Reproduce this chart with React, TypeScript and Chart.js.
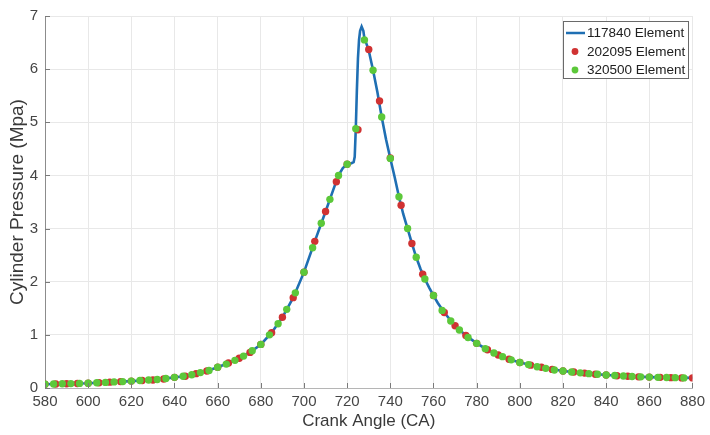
import React, { useEffect, useRef } from "react";
import { Chart, registerables } from "chart.js";

Chart.register(...registerables);

const seriesLabels = ["117840 Element", "202095 Element", "320500 Element"];

const angle117840 = [580,590,600,610,620,630,640,645,650,655,660,665,670,675,680,685,690,695,700,705,710,714,716,718,720,722,723,723.5,724,724.5,725,725.5,726,726.7,727.5,728,729,730,732,734,736,738,740,742,744,746,748,750,752,754,756,758,760,762,765,770,775,780,785,790,795,800,810,820,830,840,850,860,870,880];
const pressure117840 = [0.07,0.08,0.09,0.11,0.13,0.15,0.20,0.22,0.27,0.32,0.39,0.47,0.56,0.67,0.82,1.04,1.33,1.70,2.18,2.76,3.32,3.78,4.00,4.14,4.21,4.23,4.25,4.35,4.88,5.60,6.20,6.55,6.72,6.80,6.72,6.58,6.47,6.35,5.98,5.57,5.10,4.68,4.32,3.97,3.60,3.27,3.00,2.72,2.46,2.24,2.05,1.89,1.74,1.60,1.42,1.17,0.99,0.84,0.72,0.62,0.54,0.48,0.39,0.32,0.28,0.245,0.22,0.205,0.195,0.19];

const angle202095 = [580,585,590,595,600,605,610,615,620,625,630,635,640,645,650,655,660,665,670,675,680,685,690,695,700,705,710,715,720,725,730,735,740,745,750,755,760,765,770,775,780,785,790,795,800,805,810,815,820,825,830,835,840,845,850,855,860,865,870,875,880];
const pressure202095 = [0.07,0.075,0.08,0.085,0.09,0.10,0.11,0.12,0.13,0.14,0.15,0.17,0.20,0.22,0.27,0.32,0.39,0.47,0.56,0.67,0.82,1.04,1.33,1.70,2.18,2.76,3.32,3.88,4.21,4.86,6.37,5.40,4.33,3.44,2.72,2.14,1.74,1.42,1.17,0.99,0.84,0.72,0.62,0.54,0.48,0.43,0.39,0.35,0.32,0.30,0.28,0.26,0.245,0.23,0.22,0.21,0.205,0.20,0.195,0.19,0.19];

const angle320500 = [580,584,588,592,596,600,604,608,612,616,620,624,628,632,636,640,644,648,652,656,660,664,668,672,676,680,684,688,692,696,700,704,708,712,716,720,724,728,732,736,740,744,748,752,756,760,764,768,772,776,780,784,788,792,796,800,804,808,812,816,820,824,828,832,836,840,844,848,852,856,860,864,868,872,876];
const pressure320500 = [0.07,0.075,0.08,0.083,0.087,0.09,0.10,0.105,0.115,0.12,0.13,0.14,0.15,0.16,0.18,0.20,0.22,0.25,0.29,0.33,0.39,0.45,0.52,0.60,0.70,0.82,1.00,1.21,1.48,1.79,2.18,2.64,3.10,3.55,4.00,4.21,4.88,6.55,5.98,5.10,4.32,3.60,3.00,2.46,2.05,1.74,1.46,1.26,1.09,0.95,0.84,0.74,0.66,0.59,0.53,0.48,0.44,0.40,0.37,0.34,0.32,0.30,0.285,0.27,0.26,0.245,0.235,0.225,0.215,0.21,0.205,0.20,0.198,0.195,0.19];

const xTickStep = 20;
const yTickStep = 1;

const FONT = '"Liberation Sans", Arial, Helvetica, sans-serif';
const BLUE = "#1f6fb3";
const RED = "#d03232";
const GREEN = "#5cc83a";

const toPoints = (xs: number[], ys: number[]) => xs.map((x, i) => ({ x, y: ys[i] }));

const inwardTicks = {
  id: "inwardTicks",
  afterDatasetsDraw(chart: any) {
    const { ctx, chartArea, scales } = chart;
    const { left, bottom } = chartArea;
    ctx.save();
    ctx.strokeStyle = "#7a7a7a";
    ctx.lineWidth = 1;
    scales.x.ticks.forEach((t: any) => {
      const px = Math.round(scales.x.getPixelForValue(t.value)) + 0.5;
      ctx.beginPath();
      ctx.moveTo(px, bottom);
      ctx.lineTo(px, bottom - 5);
      ctx.stroke();
    });
    scales.y.ticks.forEach((t: any) => {
      const py = Math.round(scales.y.getPixelForValue(t.value)) + 0.5;
      ctx.beginPath();
      ctx.moveTo(left, py);
      ctx.lineTo(left + 5, py);
      ctx.stroke();
    });
    ctx.restore();
  },
};

const boxLegend = {
  id: "boxLegend",
  afterDraw(chart: any) {
    const { ctx } = chart;
    const x0 = 563, y0 = 21, w = 125, h = 57;
    ctx.save();
    ctx.fillStyle = "#ffffff";
    ctx.fillRect(x0, y0, w, h);
    ctx.strokeStyle = "#6a6a6a";
    ctx.lineWidth = 1;
    ctx.strokeRect(x0 + 0.5, y0 + 0.5, w, h);
    ctx.font = `13.5px ${FONT}`;
    ctx.textBaseline = "middle";
    const rows = [33, 51.5, 70];
    chart.data.datasets.forEach((ds: any, i: number) => {
      const cy = rows[i];
      if (i === 0) {
        ctx.strokeStyle = ds.borderColor;
        ctx.lineWidth = 2.5;
        ctx.beginPath();
        ctx.moveTo(566, cy);
        ctx.lineTo(585, cy);
        ctx.stroke();
      } else {
        ctx.fillStyle = ds.pointBackgroundColor;
        ctx.beginPath();
        ctx.arc(575, cy, 3.4, 0, Math.PI * 2);
        ctx.fill();
      }
      ctx.fillStyle = "#202020";
      ctx.fillText(ds.label, 587, cy + 0.5);
    });
    ctx.restore();
  },
};

export default function App() {
  const canvasRef = useRef<HTMLCanvasElement | null>(null);

  useEffect(() => {
    if (!canvasRef.current) return;
    const chart = new Chart(canvasRef.current, {
      type: "scatter",
      data: {
        datasets: [
          {
            label: seriesLabels[0],
            data: toPoints(angle117840, pressure117840),
            showLine: true,
            borderColor: BLUE,
            backgroundColor: BLUE,
            borderWidth: 2.6,
            pointRadius: 0,
            tension: 0,
            order: 3,
          },
          {
            label: seriesLabels[1],
            data: toPoints(angle202095, pressure202095),
            showLine: false,
            pointRadius: 3.7,
            pointBorderWidth: 0,
            pointBackgroundColor: RED,
            backgroundColor: RED,
            borderColor: RED,
            order: 2,
          },
          {
            label: seriesLabels[2],
            data: toPoints(angle320500, pressure320500),
            showLine: false,
            pointRadius: 3.7,
            pointBorderWidth: 0,
            pointBackgroundColor: GREEN,
            backgroundColor: GREEN,
            borderColor: GREEN,
            order: 1,
          },
        ],
      } as any,
      options: {
        animation: false,
        responsive: true,
        maintainAspectRatio: false,
        layout: { padding: { top: 14, right: 14, left: 0, bottom: 0 } },
        plugins: {
          legend: { display: false },
          tooltip: { enabled: false },
        },
        scales: {
          x: {
            type: "linear",
            min: 580,
            max: 880,
            ticks: {
              stepSize: xTickStep,
              color: "#454545",
              font: { family: FONT, size: 15 },
              padding: 5,
            },
            grid: { color: "#e8e8e8", drawTicks: false },
            border: { display: true, color: "#b5b5b5" },
            title: {
              display: true,
              text: "Crank Angle (CA)",
              color: "#3a3a3a",
              font: { family: FONT, size: 17 },
              padding: { top: 0, bottom: 3 },
            },
            afterFit: (scale: any) => {
              scale.height = 47;
            },
          },
          y: {
            type: "linear",
            min: 0,
            max: 7,
            ticks: {
              stepSize: yTickStep,
              color: "#454545",
              font: { family: FONT, size: 15 },
              padding: 7,
            },
            grid: { color: "#e8e8e8", drawTicks: false },
            border: { display: true, color: "#8c8c8c" },
            title: {
              display: true,
              text: "Cylinder Pressure (Mpa)",
              color: "#3a3a3a",
              font: { family: FONT, size: 19 },
              padding: { top: 6, bottom: 0 },
            },
            afterFit: (scale: any) => {
              scale.width = 45;
            },
          },
        },
      } as any,
      plugins: [inwardTicks, boxLegend],
    });
    return () => chart.destroy();
  }, []);

  return (
    <div style={{ position: "fixed", left: 0, top: 0, width: 710, height: 435, background: "#fff" }}>
      <canvas ref={canvasRef} />
    </div>
  );
}
